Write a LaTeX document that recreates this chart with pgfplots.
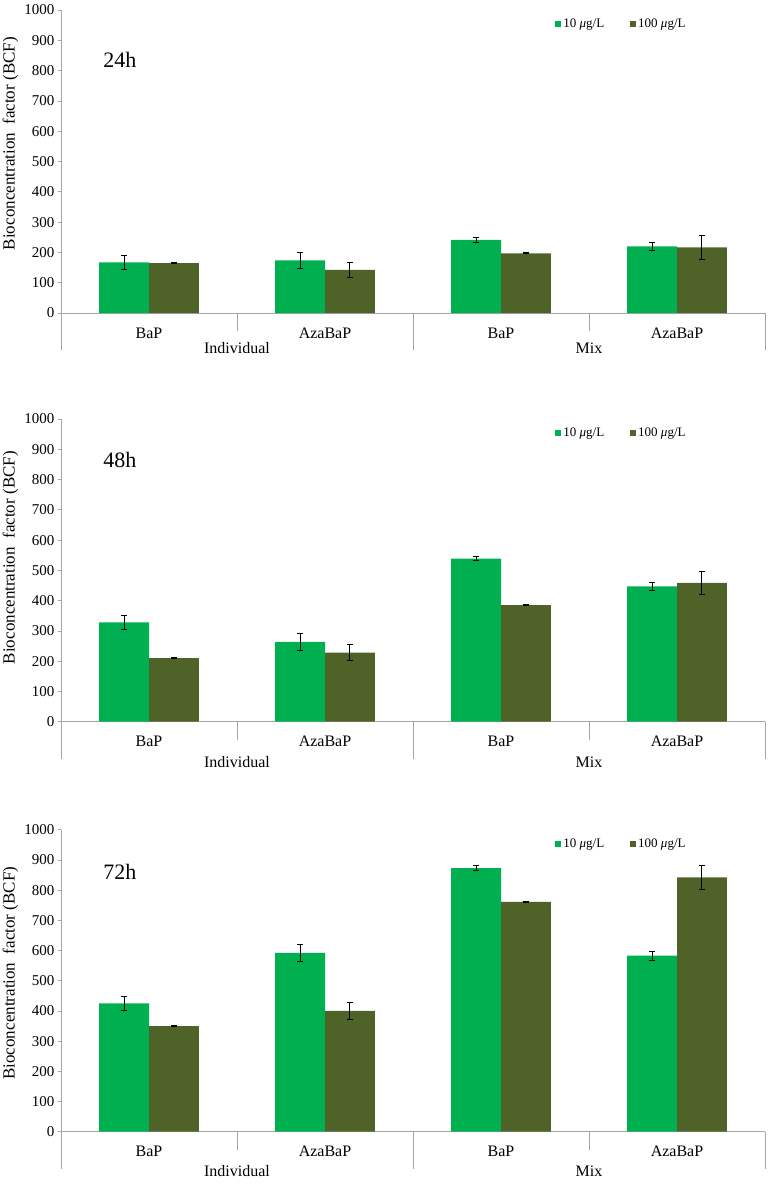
\documentclass[border=0pt]{standalone}
\usepackage{fontspec}
\setmainfont{Liberation Serif}
\usepackage{pgfplots}
\pgfplotsset{compat=1.18}
\definecolor{cgreen}{HTML}{00B050}
\definecolor{cdark}{HTML}{4F6228}
\definecolor{axgray}{HTML}{A6A6A6}
\pgfplotsset{
 bcf/.style={
  scale only axis, width=704pt,
  xmin=0,xmax=4,ymin=0,ymax=1000,
  axis lines*=left,
  axis line style={axgray, line width=0.9pt},
  clip=false,
  xtick={0.5,1.5,2.5,3.5},
  xticklabels={BaP,AzaBaP,BaP,AzaBaP},
  x tick label style={font=\fontsize{16}{16}\selectfont, anchor=center, yshift=-17pt},
  major x tick style={draw=none},
  ytick={0,100,...,1000},
  y tick label style={font=\fontsize{15}{15}\selectfont},
  /pgf/number format/assume math mode=true,
  /pgf/number format/1000 sep={},
  y tick style={axgray, line width=0.8pt},
  tick align=outside, major tick length=3pt,
  error bars/y dir=both, error bars/y explicit,
  error bars/error bar style={black, line width=1pt},
  error bars/error mark options={rotate=90, black, mark size=3pt, line width=1pt},
  legend style={draw=none, fill=none, at={(0.702,0.954)}, anchor=west,
    font=\fontsize{13}{13}\selectfont, inner sep=0pt,
    /tikz/every even column/.append style={column sep=24pt}},
  legend columns=2,
  legend image code/.code={\fill[#1, draw=none] (0pt,-3pt) rectangle (6pt,3pt);},
  legend entries={10 \textit{μ}g/L, 100 \textit{μ}g/L},
 },
 gbar/.style={ybar, bar width=0.284, bar shift=0pt, fill=cgreen, draw=none},
 dbar/.style={ybar, bar width=0.284, bar shift=0pt, fill=cdark, draw=none},
}
\newcommand{\separators}{%
  \draw[axgray, line width=0.9pt] (axis cs:0,0) -- ++(0,-37pt);
  \draw[axgray, line width=0.9pt] (axis cs:1,0) -- ++(0,-18pt);
  \draw[axgray, line width=0.9pt] (axis cs:2,0) -- ++(0,-37pt);
  \draw[axgray, line width=0.9pt] (axis cs:3,0) -- ++(0,-18pt);
  \draw[axgray, line width=0.9pt] (axis cs:4,0) -- ++(0,-37pt);
}
\begin{document}
\begin{tikzpicture}
\useasboundingbox (0,0) rectangle (768pt,-1184pt);
% ---------- 24h ----------
\begin{axis}[bcf, height=303pt, at={(61pt,-313pt)}, anchor=south west,
  ylabel={Bioconcentration\ \ factor (BCF)},
  every axis y label/.style={at={(axis description cs:-0.0717,0.559)}, rotate=90, anchor=center, font=\fontsize{17}{17}\selectfont}]
\addplot[gbar] coordinates {(0.358,167) +- (0,23) (1.358,174) +- (0,27) (2.358,241) +- (0,8) (3.358,220) +- (0,13)};
\addplot[dbar] coordinates {(0.642,165) +- (0,2) (1.642,142) +- (0,25) (2.642,197) +- (0,2) (3.642,217) +- (0,39)};
\separators
\node[font=\fontsize{16}{16}\selectfont] at ([yshift=-35pt]axis cs:1,0) {Individual};
\node[font=\fontsize{16}{16}\selectfont] at ([yshift=-35pt]axis cs:3,0) {Mix};
\node[font=\fontsize{22}{22}\selectfont] at (axis cs:0.335,835) {24h};
\end{axis}
% ---------- 48h ----------
\begin{axis}[bcf, height=302.7pt, at={(61pt,-721.7pt)}, anchor=south west,
  ylabel={Bioconcentration\ \ factor (BCF)},
  every axis y label/.style={at={(axis description cs:-0.0717,0.542)}, rotate=90, anchor=center, font=\fontsize{17}{17}\selectfont}]
\addplot[gbar] coordinates {(0.358,328) +- (0,23) (1.358,264) +- (0,28) (2.358,539) +- (0,8) (3.358,447) +- (0,14)};
\addplot[dbar] coordinates {(0.642,210) +- (0,2) (1.642,228) +- (0,27) (2.642,385) +- (0,2) (3.642,459) +- (0,38)};
\separators
\node[font=\fontsize{16}{16}\selectfont] at ([yshift=-40pt]axis cs:1,0) {Individual};
\node[font=\fontsize{16}{16}\selectfont] at ([yshift=-40pt]axis cs:3,0) {Mix};
\node[font=\fontsize{22}{22}\selectfont] at (axis cs:0.335,865) {48h};
\end{axis}
% ---------- 72h ----------
\begin{axis}[bcf, height=302pt, at={(61pt,-1131.7pt)}, anchor=south west,
  ylabel={Bioconcentration\ \ factor (BCF)},
  every axis y label/.style={at={(axis description cs:-0.0717,0.525)}, rotate=90, anchor=center, font=\fontsize{17}{17}\selectfont}]
\addplot[gbar] coordinates {(0.358,425) +- (0,24) (1.358,592) +- (0,29) (2.358,873) +- (0,8) (3.358,583) +- (0,15)};
\addplot[dbar] coordinates {(0.642,350) +- (0,2) (1.642,400) +- (0,27) (2.642,761) +- (0,2) (3.642,842) +- (0,39)};
\separators
\node[font=\fontsize{16}{16}\selectfont] at ([yshift=-39pt]axis cs:1,0) {Individual};
\node[font=\fontsize{16}{16}\selectfont] at ([yshift=-39pt]axis cs:3,0) {Mix};
\node[font=\fontsize{22}{22}\selectfont] at (axis cs:0.335,861) {72h};
\end{axis}
\end{tikzpicture}
\end{document}
